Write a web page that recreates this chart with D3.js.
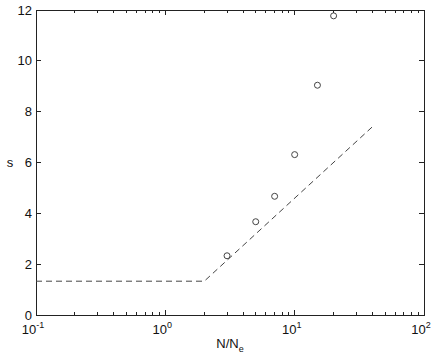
<!DOCTYPE html>
<html lang="en">
<head>
<meta charset="UTF-8"/>
<title>s vs N/Ne</title>
<script src="https://d3js.org/d3.v7.min.js"></script>
<style>
    body { margin: 0; background: #fff; }
    text { font-family: "Liberation Sans", Arial, sans-serif; font-size: 13px; fill: #111; }
    .frame { fill: none; stroke: #222; stroke-width: 1px; }
    .model { fill: none; stroke: #444; stroke-width: 1px; stroke-dasharray: 6,4; }
    .obs { fill: none; stroke: #444; stroke-width: 1px; }
</style>
</head>
<body>
<div id="chart"></div>
<script>
// measured points
var obsN = [3, 5, 7, 10, 15, 20];
var obsS = [2.33, 3.67, 4.67, 6.31, 9.04, 11.77];

// dashed model curve (flat, then rising)
var modelN = [0.1, 2, 40];
var modelS = [1.33, 1.33, 7.41];

var xTickVals = [0.1, 1, 10, 100];
var xTickExp = ["-1", "0", "1", "2"];
var yTickVals = [0, 2, 4, 6, 8, 10, 12];

var W = 436, H = 354;
var margin = {top: 10, right: 12, bottom: 39, left: 36};
var width = W - margin.left - margin.right,
    height = H - margin.top - margin.bottom;

var svg = d3.select("#chart").append("svg")
    .attr("width", W).attr("height", H);

var g = svg.append("g")
    .attr("transform", "translate(" + margin.left + "," + margin.top + ")");

var x = d3.scaleLog().domain([0.1, 100]).range([0, width]);
var y = d3.scaleLinear().domain([0, 12]).range([height, 0]);

// minor ticks for log axis
var minor = [];
[0.1, 1, 10].forEach(function(d) {
    for (var k = 2; k <= 9; k++) minor.push(d * k);
});

// inward ticks, all four sides
function tickMarks(sel, vals, scale, horiz, len) {
    vals.forEach(function(v) {
        var p = scale(v);
        if (horiz) {
            sel.append("line").attr("x1", p).attr("x2", p).attr("y1", height).attr("y2", height - len).attr("stroke", "#222");
            sel.append("line").attr("x1", p).attr("x2", p).attr("y1", 0).attr("y2", len).attr("stroke", "#222");
        } else {
            sel.append("line").attr("y1", p).attr("y2", p).attr("x1", 0).attr("x2", len).attr("stroke", "#222");
            sel.append("line").attr("y1", p).attr("y2", p).attr("x1", width).attr("x2", width - len).attr("stroke", "#222");
        }
    });
}
var ticks = g.append("g").attr("shape-rendering", "crispEdges");
tickMarks(ticks, xTickVals, x, true, 5);
tickMarks(ticks, minor, x, true, 3);
tickMarks(ticks, yTickVals, y, false, 5);

g.append("rect").attr("class", "frame")
    .attr("x", 0).attr("y", 0).attr("width", width).attr("height", height)
    .attr("shape-rendering", "crispEdges");

// y labels
g.selectAll(".ylab").data(yTickVals).enter().append("text")
    .attr("class", "ylab")
    .attr("x", -4).attr("y", function(d) { return y(d); })
    .attr("dy", "0.35em").attr("text-anchor", "end")
    .text(function(d) { return d; });

// x labels with superscript exponent
var xl = g.selectAll(".xlab").data(xTickVals).enter().append("text")
    .attr("class", "xlab")
    .attr("x", function(d) { return x(d) - 3; })
    .attr("y", height + 19)
    .attr("text-anchor", "middle");
xl.append("tspan").text("10");
xl.append("tspan").attr("dy", -6).style("font-size", "9px")
    .text(function(d, i) { return xTickExp[i]; });

// axis titles
var xt = g.append("text").attr("x", width / 2).attr("y", height + 33).attr("text-anchor", "middle");
xt.append("tspan").text("N/N");
xt.append("tspan").attr("dy", 4).style("font-size", "9px").text("e");

g.append("text").attr("x", -26).attr("y", height / 2).attr("dy", "0.35em")
    .attr("text-anchor", "middle").text("s");

// model line
var line = d3.line()
    .x(function(d) { return x(d[0]); })
    .y(function(d) { return y(d[1]); });
g.append("path").attr("class", "model")
    .attr("d", line(d3.zip(modelN, modelS)));

// observations
g.selectAll(".obs").data(d3.zip(obsN, obsS)).enter().append("circle")
    .attr("class", "obs")
    .attr("cx", function(d) { return x(d[0]); })
    .attr("cy", function(d) { return y(d[1]); })
    .attr("r", 3);
</script>
</body>
</html>
